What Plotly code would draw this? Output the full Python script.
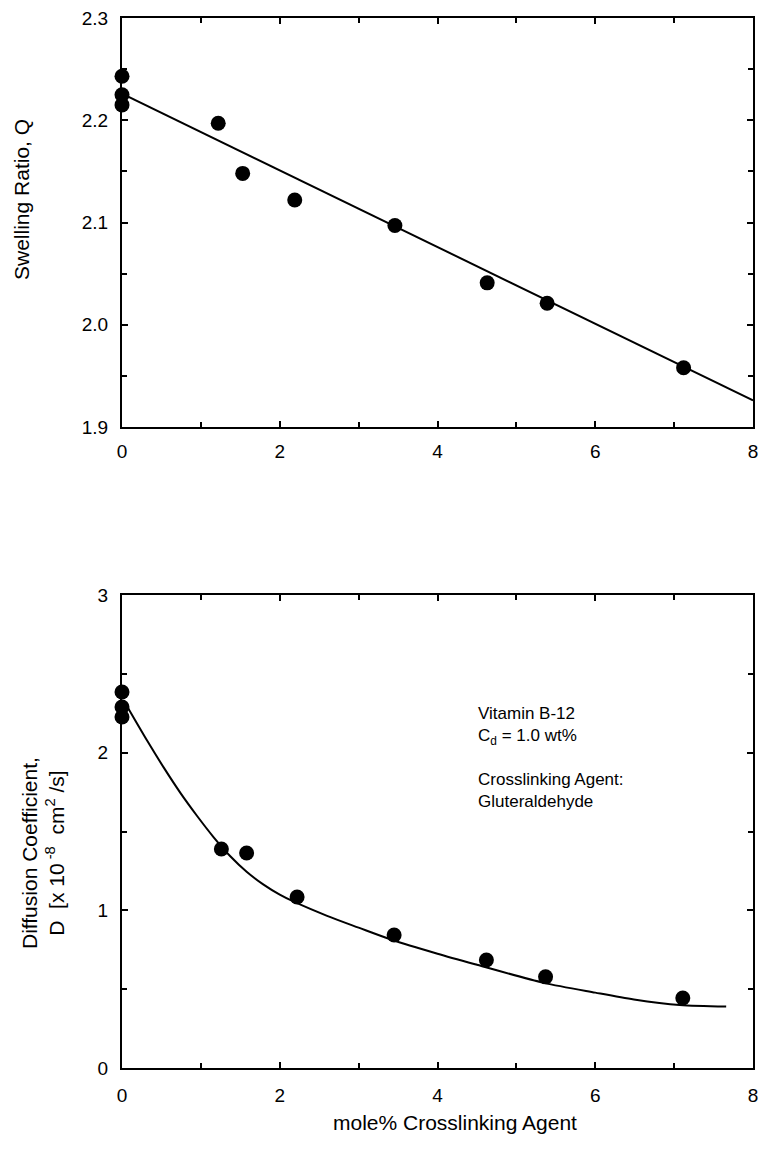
import plotly.graph_objects as go

# ---- data: top panel (swelling ratio) ----
q_x = [0, 0, 0, 1.22, 1.53, 2.19, 3.46, 4.63, 5.39, 7.12]
q_y = [2.243, 2.225, 2.215, 2.197, 2.148, 2.122, 2.097, 2.041, 2.021, 1.958]
q_fit_x = [0, 8]
q_fit_y = [2.226, 1.926]

# ---- data: bottom panel (diffusion coefficient) ----
d_x = [0, 0, 0, 1.26, 1.58, 2.22, 3.45, 4.62, 5.37, 7.11]
d_y = [2.385, 2.29, 2.226, 1.389, 1.364, 1.085, 0.844, 0.685, 0.578, 0.444]
d_fit_x = [0.08, 0.32, 0.53, 0.74, 0.95, 1.16, 1.37, 1.58, 1.79, 2.0, 2.2, 2.6, 3.0, 3.41, 4.0, 4.5, 5.35, 6.0, 6.49, 7.07, 7.66]
d_fit_y = [2.28, 2.075, 1.905, 1.745, 1.600, 1.465, 1.345, 1.245, 1.165, 1.10, 1.05, 0.965, 0.89, 0.815, 0.725, 0.655, 0.54, 0.478, 0.435, 0.40, 0.39]

x_ticks = [0, 2, 4, 6, 8]
q_ticks = [1.9, 2.0, 2.1, 2.2, 2.3]
d_ticks = [0, 1, 2, 3]

W, H = 761, 1154
FONT = "Liberation Sans, Arial, Helvetica, sans-serif"

fig = go.Figure()
fig.add_trace(go.Scatter(x=q_fit_x, y=q_fit_y, mode="lines", line=dict(color="black", width=2),
                         xaxis="x", yaxis="y", showlegend=False, cliponaxis=False))
fig.add_trace(go.Scatter(x=q_x, y=q_y, mode="markers", marker=dict(color="black", size=15),
                         xaxis="x", yaxis="y", showlegend=False, cliponaxis=False))
fig.add_trace(go.Scatter(x=d_fit_x, y=d_fit_y, mode="lines",
                         line=dict(color="black", width=2, shape="spline", smoothing=0.8),
                         xaxis="x2", yaxis="y2", showlegend=False, cliponaxis=False))
fig.add_trace(go.Scatter(x=d_x, y=d_y, mode="markers", marker=dict(color="black", size=15),
                         xaxis="x2", yaxis="y2", showlegend=False, cliponaxis=False))

xdom = [122 / W, 753 / W]
top_dom = [1 - 427 / H, 1 - 18 / H]
bot_dom = [1 - 1068 / H, 1 - 595 / H]

axis_common = dict(showline=True, linecolor="black", linewidth=2, mirror="allticks",
                   ticks="inside", ticklen=6, tickwidth=2, tickcolor="black",
                   showgrid=False, zeroline=False, automargin=False,
                   tickfont=dict(family=FONT, size=19, color="black"))

fig.update_layout(
    width=W, height=H,
    margin=dict(l=0, r=0, t=0, b=0),
    paper_bgcolor="white", plot_bgcolor="white",
    font=dict(family=FONT, color="black"),
    xaxis=dict(domain=xdom, anchor="y", range=[0, 8], tickvals=x_ticks,
               minor=dict(dtick=1, ticks="inside", ticklen=5, tickwidth=1.5, tickcolor="black"),
               ticklabelstandoff=6, **axis_common),
    yaxis=dict(domain=top_dom, anchor="x", range=[1.9, 2.3], tickvals=q_ticks, tickformat=".1f",
               minor=dict(dtick=0.05, tick0=1.9, ticks="inside", ticklen=5, tickwidth=1.5, tickcolor="black"),
               ticklabelstandoff=8, **axis_common),
    xaxis2=dict(domain=xdom, anchor="y2", range=[0, 8], tickvals=x_ticks,
                minor=dict(dtick=1, ticks="inside", ticklen=5, tickwidth=1.5, tickcolor="black"),
                ticklabelstandoff=9, **axis_common),
    yaxis2=dict(domain=bot_dom, anchor="x2", range=[0, 3], tickvals=d_ticks,
                minor=dict(dtick=0.5, ticks="inside", ticklen=5, tickwidth=1.5, tickcolor="black"),
                ticklabelstandoff=8, **axis_common),
)

ann_font = dict(family=FONT, size=17, color="black")
title_font = dict(family=FONT, size=21, color="black")
fig.add_annotation(text="Swelling Ratio, Q", textangle=-90, xref="paper", yref="paper",
                   x=22 / W, y=1 - 200 / H, xanchor="center", yanchor="middle",
                   showarrow=False, font=title_font)
fig.add_annotation(text="Diffusion Coefficient,<br>D  [x 10<sup> -8</sup>  cm<sup>2</sup> /s]", textangle=-90,
                   xref="paper", yref="paper", x=43 / W, y=1 - 853 / H,
                   xanchor="center", yanchor="middle",
                   showarrow=False, font=title_font)
fig.add_annotation(text="mole% Crosslinking Agent", xref="paper", yref="paper",
                   x=455 / W, y=1 - 1122 / H, xanchor="center", yanchor="middle",
                   showarrow=False, font=title_font)
fig.add_annotation(text="Vitamin B-12<br>C<sub>d</sub> = 1.0 wt%", xref="paper", yref="paper",
                   x=476 / W, y=1 - 726 / H, xanchor="left", yanchor="middle", align="left",
                   showarrow=False, font=ann_font)
fig.add_annotation(text="Crosslinking Agent:<br>Gluteraldehyde", xref="paper", yref="paper",
                   x=476 / W, y=1 - 790 / H, xanchor="left", yanchor="middle", align="left",
                   showarrow=False, font=ann_font)

fig.write_html("out.html")
